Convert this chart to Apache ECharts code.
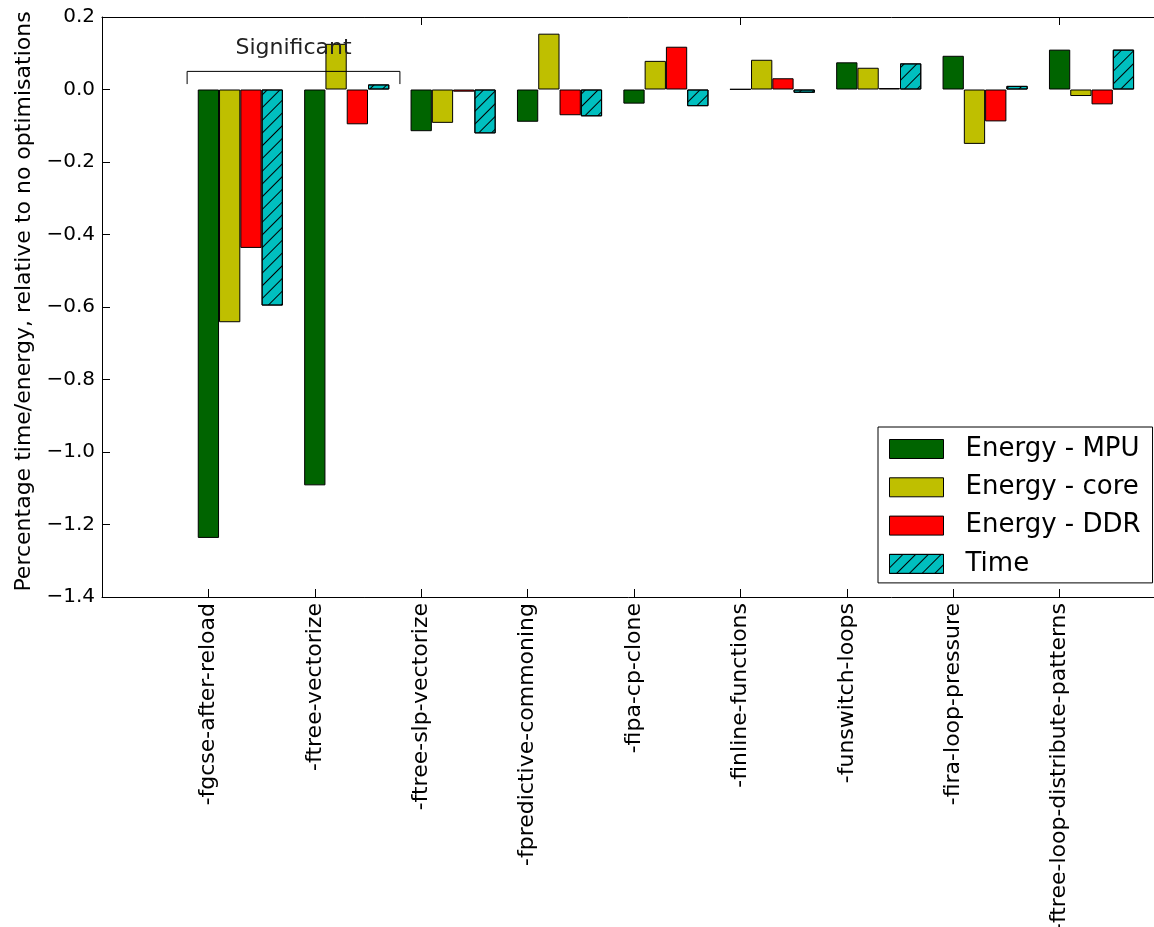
<!DOCTYPE html>
<html>
<head>
<meta charset="utf-8">
<script src="https://cdn.jsdelivr.net/npm/echarts@6/dist/echarts.min.js"></script>
<style>
  html, body { margin: 0; padding: 0; background: #fff; }
  #chart { width: 1154px; height: 927px; }
</style>
</head>
<body>
<div id="chart"></div>
<script>
// Compiler flags that were switched off, one group of bars per flag
const categories = [
  '-fgcse-after-reload', '-ftree-vectorize', '-ftree-slp-vectorize',
  '-fpredictive-commoning', '-fipa-cp-clone', '-finline-functions',
  '-funswitch-loops', '-fira-loop-pressure', '-ftree-loop-distribute-patterns'
];
// Relative change against the build with no optimisations
const energyMPU  = [-1.237, -1.092, -0.115, -0.089, -0.039,  0.001, 0.075,  0.093,  0.110];
const energyCore = [-0.642,  0.126, -0.092,  0.154,  0.079,  0.082, 0.060, -0.150, -0.018];
const energyDDR  = [-0.437, -0.096, -0.006, -0.071,  0.118,  0.031, 0.004, -0.088, -0.041];
const timeRel    = [-0.596,  0.014, -0.121, -0.074, -0.046, -0.009, 0.072,  0.010,  0.110];
const seriesNames = ['Energy - MPU', 'Energy - core', 'Energy - DDR', 'Time'];
const yTicks = [-1.4, -1.2, -1.0, -0.8, -0.6, -0.4, -0.2, 0.0, 0.2];

// "Significant" bracket: spans the first two flags (category indices), heights in data units
const bracketFlags = [0, 1];
const bracketLevel = 0.05;
const bracketFoot = 0.015;
const bracketLabelLevel = 0.113;
const bracketLabel = 'Significant';

const FONT = 'DejaVu Sans';
const axisCats = [''].concat(categories, ['']);
const pad = v => [null].concat(v, [null]);

const colors = ['#006400', '#bfbf00', '#ff0000', '#00bfbf'];
const values = [energyMPU, energyCore, energyDDR, timeRel];

const chart = echarts.init(document.getElementById('chart'), null, { renderer: 'canvas' });

// Three empty leading series shift each group so the first bar sits on the tick
const spacers = [0, 1, 2].map(i => ({
  type: 'bar', name: 'spacer' + i, data: [], barWidth: '20%', barGap: '0%', silent: true
}));

const barSeries = seriesNames.map((name, i) => ({
  type: 'bar',
  name: name,
  data: pad(values[i]),
  barWidth: '20%',
  barGap: '0%',
  itemStyle: Object.assign({
    color: colors[i],
    borderColor: '#000',
    borderWidth: 1
  }, i === 3 ? {
    decal: {
      symbol: 'rect',
      symbolSize: 1,
      color: '#000',
      dashArrayX: [1, 0],
      dashArrayY: [1, 8],
      rotation: -Math.PI / 4
    }
  } : {}),
  emphasis: { disabled: true }
}));

chart.setOption({
  animation: false,
  backgroundColor: '#fff',
  textStyle: { fontFamily: FONT },
  // the frame runs on past the right edge of the page
  grid: {
    left: 102, top: 17, bottom: 330, width: 1064,
    containLabel: false, outerBoundsMode: 'none'
  },
  legend: {
    data: seriesNames,
    orient: 'vertical',
    left: 878,
    top: 427,
    icon: 'rect',
    itemWidth: 54,
    itemHeight: 19,
    itemGap: 12.3,
    padding: [9, 12, 6, 11],
    borderColor: '#000',
    borderWidth: 1,
    backgroundColor: '#fff',
    itemStyle: { borderColor: '#000', borderWidth: 1 },
    textStyle: {
      fontFamily: FONT, fontSize: 26, color: '#000',
      lineHeight: 26, padding: [0, 0, 0, 17]
    }
  },
  xAxis: [
    {
      type: 'category',
      data: axisCats,
      boundaryGap: false,
      position: 'bottom',
      axisLine: { show: true, onZero: false, lineStyle: { color: '#000', width: 1 } },
      axisTick: { show: true, inside: true, length: 8, lineStyle: { color: '#000' } },
      axisLabel: {
        rotate: 90, margin: 6, fontFamily: FONT, fontSize: 22, color: '#000',
        interval: 0
      },
      splitLine: { show: false }
    },
    {
      type: 'category',
      data: axisCats,
      boundaryGap: false,
      position: 'top',
      axisLine: { show: true, onZero: false, lineStyle: { color: '#000', width: 1 } },
      axisTick: { show: true, inside: true, length: 8, lineStyle: { color: '#000' } },
      axisLabel: { show: false },
      splitLine: { show: false }
    }
  ],
  yAxis: {
    type: 'value',
    min: yTicks[0],
    max: yTicks[yTicks.length - 1],
    interval: 0.2,
    name: 'Percentage time/energy, relative to no optimisations',
    nameLocation: 'middle',
    nameGap: 67,
    nameTextStyle: { fontFamily: FONT, fontSize: 22, color: '#000', padding: [0, 0, 0, 11] },
    axisLine: { show: true, lineStyle: { color: '#000', width: 1 } },
    axisTick: { show: true, inside: true, length: 8, lineStyle: { color: '#000' } },
    axisLabel: {
      margin: 7, fontFamily: FONT, fontSize: 20, color: '#000',
      formatter: v => (v < 0 ? '\u2212' : '') + Math.abs(v).toFixed(1)
    },
    splitLine: { show: false }
  },
  series: spacers.concat(barSeries)
});

// Bracket drawn in data space: category positions come from the axis
const toPx = (cat, val) => chart.convertToPixel({ xAxisIndex: 0, yAxisIndex: 0 }, [cat + 1, val]);
const p0 = toPx(bracketFlags[0], bracketLevel);
const p1 = toPx(bracketFlags[0] + 1, bracketLevel);
const band = p1[0] - p0[0];
const xa = toPx(bracketFlags[0], 0)[0] - 0.2 * band;
const xb = toPx(bracketFlags[1], 0)[0] + 0.8 * band;
const yTop = p0[1];
const yFoot = toPx(0, bracketFoot)[1];
const yLabel = toPx(0, bracketLabelLevel)[1];

chart.setOption({
  graphic: [
    {
      type: 'polyline',
      z: 100,
      shape: { points: [[xa, yFoot], [xa, yTop], [xb, yTop], [xb, yFoot]] },
      style: { stroke: '#000', lineWidth: 1, fill: null }
    },
    {
      type: 'text',
      z: 100,
      x: (xa + xb) / 2,
      y: yLabel,
      style: {
        text: bracketLabel, fontFamily: FONT, fontSize: 22, fill: '#222',
        align: 'center', verticalAlign: 'middle'
      }
    }
  ]
});
</script>
</body>
</html>
